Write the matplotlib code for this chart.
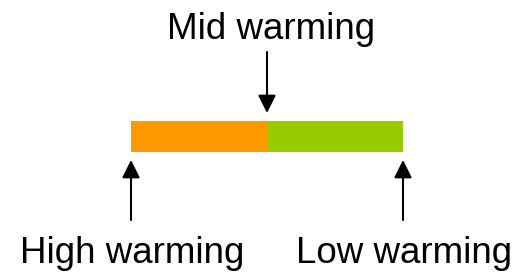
import matplotlib.pyplot as plt

# scale positions: high warming -> mid warming -> low warming
labels = ['High warming', 'Mid warming', 'Low warming']
positions = [0, 1, 2]
seg_start = [0, 1]
seg_width = [1, 1]
seg_colors = ['#FF9900', '#99CC00']

plt.rcParams['font.family'] = ['Liberation Sans', 'DejaVu Sans']

fig = plt.figure(figsize=(5.18, 2.72), dpi=100)
ax = fig.add_axes([0, 0, 1, 1])
ax.set_xlim(-131 / 136, 2 + 115 / 136)
ax.set_ylim(272, 0)
ax.axis('off')

ax.barh(136.5, seg_width, left=seg_start, height=31, color=seg_colors, linewidth=0)

arrow = dict(arrowstyle='-|>', mutation_scale=27, color='black', lw=1.5,
             shrinkA=0, shrinkB=0)
for lab, p in zip(labels, positions):
    if lab.startswith('Mid'):
        ax.annotate('', xy=(p, 113), xytext=(p, 52), arrowprops=arrow)
        ax.text(p + 0.03, 39, lab, ha='center', va='baseline', fontsize=26.5)
    else:
        ax.annotate('', xy=(p, 160), xytext=(p, 220), arrowprops=arrow)
        ax.text(p + 0.01, 263, lab, ha='center', va='baseline', fontsize=26.5)

fig.savefig('out.png', dpi=100, facecolor='white')
